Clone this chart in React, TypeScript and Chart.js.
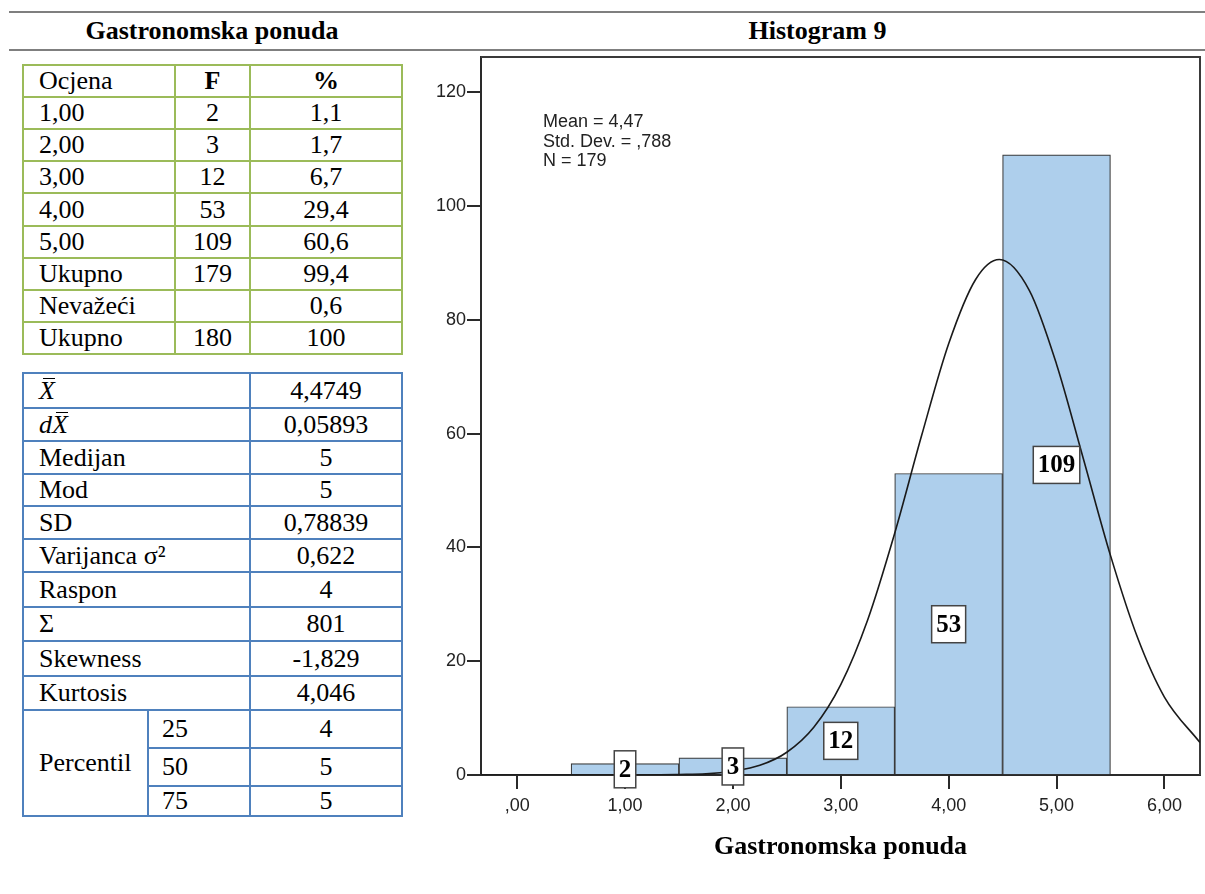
import React, { useEffect, useRef } from 'react';
import { Chart, registerables } from 'chart.js';

Chart.register(...registerables);

const SERIF = '"Liberation Serif", "Times New Roman", serif';
const SANS = '"Liberation Sans", Arial, sans-serif';

// ---------- data ----------
const ratingLabels = ['1,00', '2,00', '3,00', '4,00', '5,00'];
const ratingValues = [1, 2, 3, 4, 5];
const frequencies = [2, 3, 12, 53, 109];
const percents = ['1,1', '1,7', '6,7', '29,4', '60,6'];
const summaryLabels = ['Ukupno', 'Nevažeći', 'Ukupno'];
const summaryF = ['179', '', '180'];
const summaryPct = ['99,4', '0,6', '100'];

const statLabels = ['__XBAR__', '__DXBAR__', 'Medijan', 'Mod', 'SD', 'Varijanca σ²', 'Raspon', 'Σ', 'Skewness', 'Kurtosis'];
const statValues = ['4,4749', '0,05893', '5', '5', '0,78839', '0,622', '4', '801', '-1,829', '4,046'];
const percentileKeys = ['25', '50', '75'];
const percentileValues = ['4', '5', '5'];

const xTickValues = [0, 1, 2, 3, 4, 5, 6];
const xTickLabels = [',00', '1,00', '2,00', '3,00', '4,00', '5,00', '6,00'];
const yTickValues = [0, 20, 40, 60, 80, 100, 120];

// normal curve
const curveX = [-0.34, 0.5, 1.0, 1.5, 1.75, 2.0, 2.25, 2.5, 2.75, 3.0, 3.25, 3.5, 3.75, 4.0, 4.25, 4.47, 4.75, 5.0, 5.25, 5.5, 5.75, 6.0, 6.33];
const curveY = [0, 0, 0, 0.1, 0.2, 0.7, 1.7, 4.0, 8.4, 15.9, 27.3, 42.5, 59.7, 75.8, 87.1, 90.6, 85.1, 72.2, 55.5, 38.6, 24.2, 13.7, 5.7];

const statsLines = ['Mean = 4,47', 'Std. Dev. = ,788', 'N = 179'];
const chartTitle = 'Histogram 9';
const tableTitle = 'Gastronomska ponuda';
const axisTitle = 'Gastronomska ponuda';

// ---------- layout helpers ----------
const GREEN = '#9BBB59';
const BLUE = '#4F81BD';

type CellProps = {
  x0: number; x1: number; y0: number; y1: number; color: string;
  align?: 'left' | 'center'; pad?: number; bold?: boolean; children?: React.ReactNode;
};

function Cell({ x0, x1, y0, y1, color, align = 'center', pad = 15, bold = false, children }: CellProps) {
  return (
    <div
      style={{
        position: 'absolute',
        left: x0 - 1,
        top: y0 - 1,
        width: x1 - x0 + 2,
        height: y1 - y0 + 2,
        border: `2px solid ${color}`,
        boxSizing: 'border-box',
        display: 'flex',
        alignItems: 'center',
        justifyContent: align === 'left' ? 'flex-start' : 'center',
        paddingLeft: align === 'left' ? pad : 0,
        fontFamily: SERIF,
        fontSize: 26,
        fontWeight: bold ? 'bold' : 'normal',
        color: '#000',
        whiteSpace: 'nowrap',
        lineHeight: 'normal',
      }}
    >
      {children}
    </div>
  );
}

function BarX() {
  return (
    <span style={{ position: 'relative', display: 'inline-block', fontStyle: 'italic' }}>
      X
      <span style={{ position: 'absolute', left: 4, right: 0, top: 2, height: 1.5, background: '#000' }} />
    </span>
  );
}

function statLabel(s: string) {
  if (s === '__XBAR__') return <BarX />;
  if (s === '__DXBAR__')
    return (
      <span>
        <span style={{ fontStyle: 'italic' }}>d</span>
        <BarX />
      </span>
    );
  return s;
}

function GreenTable() {
  const xs = [23, 175, 250, 402];
  const ys = [65, 97, 129, 161, 193, 226, 258, 290, 322, 354];
  const rows: { a: string; b: string; c: string; head?: boolean }[] = [];
  rows.push({ a: 'Ocjena', b: 'F', c: '%', head: true });
  ratingLabels.forEach((r, i) => rows.push({ a: r, b: String(frequencies[i]), c: percents[i] }));
  summaryLabels.forEach((s, i) => rows.push({ a: s, b: summaryF[i], c: summaryPct[i] }));
  const cells: React.ReactNode[] = [];
  rows.forEach((r, i) => {
    const y0 = ys[i], y1 = ys[i + 1];
    cells.push(<Cell key={`a${i}`} x0={xs[0]} x1={xs[1]} y0={y0} y1={y1} color={GREEN} align="left">{r.a}</Cell>);
    cells.push(<Cell key={`b${i}`} x0={xs[1]} x1={xs[2]} y0={y0} y1={y1} color={GREEN} bold={!!r.head}>{r.b}</Cell>);
    cells.push(<Cell key={`c${i}`} x0={xs[2]} x1={xs[3]} y0={y0} y1={y1} color={GREEN} bold={!!r.head}>{r.c}</Cell>);
  });
  return <>{cells}</>;
}

function BlueTable() {
  const xs = [23, 148, 250, 402];
  const ys = [373, 408, 441, 474, 506, 539, 572, 607, 641, 676, 710, 748, 786, 816];
  const cells: React.ReactNode[] = [];
  statLabels.forEach((s, i) => {
    cells.push(<Cell key={`l${i}`} x0={xs[0]} x1={xs[2]} y0={ys[i]} y1={ys[i + 1]} color={BLUE} align="left">{statLabel(s)}</Cell>);
    cells.push(<Cell key={`v${i}`} x0={xs[2]} x1={xs[3]} y0={ys[i]} y1={ys[i + 1]} color={BLUE}>{statValues[i]}</Cell>);
  });
  const base = statLabels.length;
  cells.push(
    <Cell key="pct" x0={xs[0]} x1={xs[1]} y0={ys[base]} y1={ys[base + 3]} color={BLUE} align="left">Percentil</Cell>
  );
  percentileKeys.forEach((k, j) => {
    const i = base + j;
    cells.push(<Cell key={`pk${j}`} x0={xs[1]} x1={xs[2]} y0={ys[i]} y1={ys[i + 1]} color={BLUE} align="left" pad={13}>{k}</Cell>);
    cells.push(<Cell key={`pv${j}`} x0={xs[2]} x1={xs[3]} y0={ys[i]} y1={ys[i + 1]} color={BLUE}>{percentileValues[j]}</Cell>);
  });
  return <>{cells}</>;
}

// ---------- chart plugins ----------
const framePlugin = {
  id: 'frame',
  beforeDatasetsDraw(chart: any) {
    const { ctx, chartArea: a } = chart;
    ctx.save();
    ctx.strokeStyle = '#3a3a3a';
    ctx.lineWidth = 2;
    ctx.beginPath();
    ctx.moveTo(a.left, a.top);
    ctx.lineTo(a.right, a.top);
    ctx.lineTo(a.right, a.bottom);
    ctx.stroke();
    ctx.restore();
  },
};

const statsPlugin = {
  id: 'statsText',
  afterDatasetsDraw(chart: any) {
    const { ctx, chartArea: a } = chart;
    ctx.save();
    ctx.font = `18px ${SANS}`;
    ctx.fillStyle = '#222';
    ctx.textAlign = 'left';
    ctx.textBaseline = 'alphabetic';
    statsLines.forEach((t, i) => ctx.fillText(t, a.left + 62, a.top + 70 + i * 19.7));
    ctx.restore();
  },
};

const barLabelPlugin = {
  id: 'barLabels',
  afterDatasetsDraw(chart: any) {
    const { ctx } = chart;
    const meta = chart.getDatasetMeta(1);
    const yScale = chart.scales.y;
    ctx.save();
    ctx.font = `bold 25px ${SERIF}`;
    meta.data.forEach((el: any, i: number) => {
      const text = String(frequencies[i]);
      const w = ctx.measureText(text).width + 9;
      const h = 37;
      const cx = el.x;
      const cy = yScale.getPixelForValue(frequencies[i] / 2);
      ctx.fillStyle = '#fff';
      ctx.fillRect(cx - w / 2, cy - h / 2, w, h);
      ctx.strokeStyle = '#444';
      ctx.lineWidth = 1.5;
      ctx.strokeRect(cx - w / 2, cy - h / 2, w, h);
      ctx.fillStyle = '#000';
      ctx.textAlign = 'center';
      ctx.textBaseline = 'middle';
      ctx.fillText(text, cx, cy + 1);
    });
    ctx.restore();
  },
};

function Histogram() {
  const ref = useRef<HTMLCanvasElement | null>(null);
  useEffect(() => {
    if (!ref.current) return;
    const chart = new Chart(ref.current, {
      type: 'bar',
      data: {
        datasets: [
          {
            type: 'line',
            data: curveX.map((x, i) => ({ x, y: curveY[i] })),
            borderColor: '#1a1a1a',
            borderWidth: 1.6,
            pointRadius: 0,
            fill: false,
            cubicInterpolationMode: 'monotone',
            order: 0,
          } as any,
          {
            type: 'bar',
            data: ratingValues.map((x, i) => ({ x, y: frequencies[i] })),
            backgroundColor: '#AECFEC',
            borderColor: '#3a3a3a',
            borderWidth: 1.2,
            barPercentage: 1,
            categoryPercentage: 1,
            order: 1,
          } as any,
        ],
      },
      options: {
        animation: false,
        responsive: false,
        devicePixelRatio: 1,
        layout: { padding: { top: 17, right: 5, left: 0, bottom: 0 } },
        plugins: { legend: { display: false }, tooltip: { enabled: false } },
        scales: {
          x: {
            type: 'linear',
            offset: false,
            min: -0.335,
            max: 6.33,
            afterBuildTicks: (s: any) => {
              s.ticks = xTickValues.map((v) => ({ value: v }));
            },
            afterFit: (s: any) => {
              s.height = 119;
            },
            grid: { offset: false, drawOnChartArea: false, drawTicks: true, tickLength: 14, color: '#2a2a2a', lineWidth: 2 },
            border: { display: true, color: '#2a2a2a', width: 2 },
            ticks: {
              callback: (_v: any, i: number) => xTickLabels[i],
              font: { family: SANS, size: 18 },
              color: '#222',
              padding: 6,
              maxRotation: 0,
              autoSkip: false,
            },
            title: {
              display: true,
              text: axisTitle,
              font: { family: SERIF, size: 26, weight: 'bold' },
              color: '#000',
              padding: { top: 0, bottom: 31 },
            },
          },
          y: {
            type: 'linear',
            min: 0,
            max: 126.2,
            afterBuildTicks: (s: any) => {
              s.ticks = yTickValues.map((v) => ({ value: v }));
            },
            afterFit: (s: any) => {
              s.width = 76;
            },
            grid: { drawOnChartArea: false, drawTicks: true, tickLength: 14, color: '#2a2a2a', lineWidth: 2 },
            border: { display: true, color: '#2a2a2a', width: 2 },
            ticks: {
              font: { family: SANS, size: 18 },
              color: '#222',
              padding: 1,
              autoSkip: false,
            },
          },
        },
      } as any,
      plugins: [framePlugin, statsPlugin, barLabelPlugin],
    });
    return () => chart.destroy();
  }, []);
  return (
    <div style={{ position: 'absolute', left: 405, top: 40, width: 800, height: 854 }}>
      <canvas ref={ref} width={800} height={854} style={{ width: 800, height: 854, display: 'block' }} />
    </div>
  );
}

export default function App() {
  return (
    <div style={{ position: 'absolute', left: 0, top: 0, width: 1205, height: 894, background: '#fff', overflow: 'hidden' }}>
      <div style={{ position: 'absolute', left: 9, top: 11, width: 1196, height: 2, background: '#7f7f7f' }} />
      <div style={{ position: 'absolute', left: 9, top: 49, width: 1196, height: 2, background: '#7f7f7f' }} />
      <div
        style={{
          position: 'absolute', left: 9, top: 13, width: 406, height: 36,
          display: 'flex', alignItems: 'center', justifyContent: 'center',
          fontFamily: SERIF, fontSize: 26, fontWeight: 'bold', color: '#000', whiteSpace: 'nowrap',
        }}
      >
        {tableTitle}
      </div>
      <div
        style={{
          position: 'absolute', left: 430, top: 13, width: 775, height: 36,
          display: 'flex', alignItems: 'center', justifyContent: 'center',
          fontFamily: SERIF, fontSize: 26, fontWeight: 'bold', color: '#000', whiteSpace: 'nowrap',
        }}
      >
        {chartTitle}
      </div>
      <GreenTable />
      <BlueTable />
      <Histogram />
    </div>
  );
}
